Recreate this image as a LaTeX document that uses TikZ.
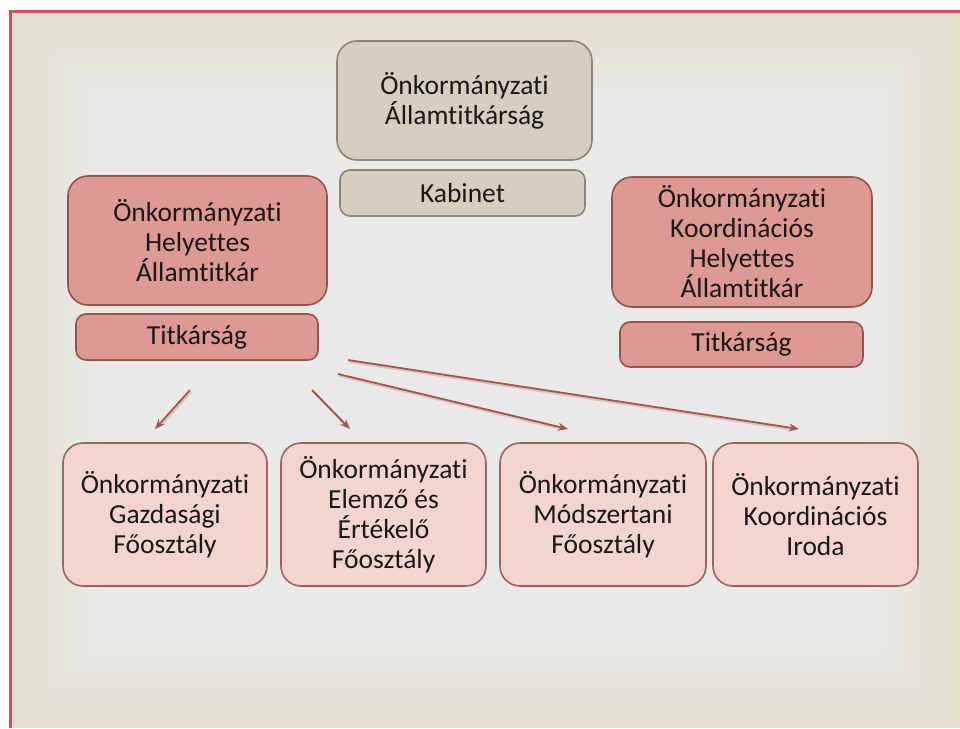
\documentclass[tikz,border=0pt]{standalone}
\usepackage{fontspec}
\setmainfont[Ligatures={NoCommon}]{Carlito}
\usetikzlibrary{arrows.meta}
\definecolor{bgedge}{RGB}{226,223,207}
\definecolor{bgin}{RGB}{233,233,232}
\definecolor{framered}{RGB}{200,82,90}
\definecolor{tanfill}{RGB}{214,206,192}
\definecolor{tandraw}{RGB}{140,132,118}
\definecolor{salfill}{RGB}{221,153,148}
\definecolor{saldraw}{RGB}{150,82,78}
\definecolor{pinkfill}{RGB}{244,212,208}
\definecolor{pinkdraw}{RGB}{155,100,95}
\definecolor{arrowcol}{RGB}{165,85,78}
\definecolor{txt}{RGB}{25,25,25}
\tikzset{
  box/.style={rectangle, rounded corners=20pt, line width=1.6pt, align=center,
    inner sep=0pt, text=txt, font=\fontsize{27.5}{30}\selectfont},
  smallbox/.style={box, rounded corners=10pt},
  tanbox/.style={fill=tanfill, draw=tandraw},
  salbox/.style={fill=salfill, draw=saldraw},
  pinkbox/.style={fill=pinkfill, draw=pinkdraw},
  conn/.style={draw=arrowcol, line width=1.8pt, -{Stealth[length=10pt,width=8pt]}},
  connshadow/.style={draw=arrowcol!25!bgin, line width=2.2pt, shorten >=8pt}
}
\begin{document}
\begin{tikzpicture}[x=1pt,y=-1pt]
\useasboundingbox (0,0) rectangle (960,728);
\fill[white] (0,0) rectangle (960,728);
% background gradient
\foreach \i in {0,...,15}{
  \pgfmathsetmacro\p{\i*100/15}
  \pgfmathsetmacro\d{\i*6}
  \fill[bgin!\p!bgedge] (10+\d,11+\d) rectangle (960-\d,728-\d);
}
\draw[framered, line width=3pt] (960,11) -- (10,11) -- (10,728);

% top
\node[box, tanbox, minimum width=255pt, minimum height=119pt] (allam) at (464.5,100.5)
  {Önkormányzati\\Államtitkárság};
\node[smallbox, tanbox, minimum width=245pt, minimum height=46pt] (kabinet) at (462.5,193)
  {Kabinet};

% left deputy
\node[box, salbox, minimum width=259pt, minimum height=129pt] (helyL) at (197.5,240.5)
  {Önkormányzati\\Helyettes\\Államtitkár};
\node[smallbox, salbox, minimum width=242pt, minimum height=46pt] (titkL) at (197,337)
  {Titkárság};

% right deputy
\node[box, salbox, minimum width=260pt, minimum height=130pt] (helyR) at (742,242)
  {Önkormányzati\\Koordinációs\\Helyettes\\Államtitkár};
\node[smallbox, salbox, minimum width=243pt, minimum height=45pt] (titkR) at (741.5,344.5)
  {Titkárság};

% bottom
\node[box, pinkbox, minimum width=204pt, minimum height=143pt] (gazd) at (165,514.5)
  {Önkormányzati\\Gazdasági\\Főosztály};
\node[box, pinkbox, minimum width=205pt, minimum height=143pt] (elem) at (383.5,514.5)
  {Önkormányzati\\Elemző és\\Értékelő\\Főosztály};
\node[box, pinkbox, minimum width=206pt, minimum height=143pt] (modsz) at (603,514.5)
  {Önkormányzati\\Módszertani\\Főosztály};
\node[box, pinkbox, minimum width=205pt, minimum height=143pt] (koord) at (815.5,514.5)
  {Önkormányzati\\Koordinációs\\Iroda};

% connector end points
\coordinate (s1) at (190,390);
\coordinate (e1) at (155,429);
\coordinate (s2) at (312,390);
\coordinate (e2) at (350,429);
\coordinate (s3) at (338,374);
\coordinate (e3) at (568,429);
\coordinate (s4) at (348,360);
\coordinate (e4) at (799,429);

\foreach \a/\b in {s1/e1, s2/e2, s3/e3, s4/e4}{
  \draw[connshadow] ([shift={(1.2,1.8)}]\a) -- ([shift={(1.2,1.8)}]\b);
}
\draw[conn] (s1) -- (e1);
\draw[conn] (s2) -- (e2);
\draw[conn] (s3) -- (e3);
\draw[conn] (s4) -- (e4);
\end{tikzpicture}
\end{document}
